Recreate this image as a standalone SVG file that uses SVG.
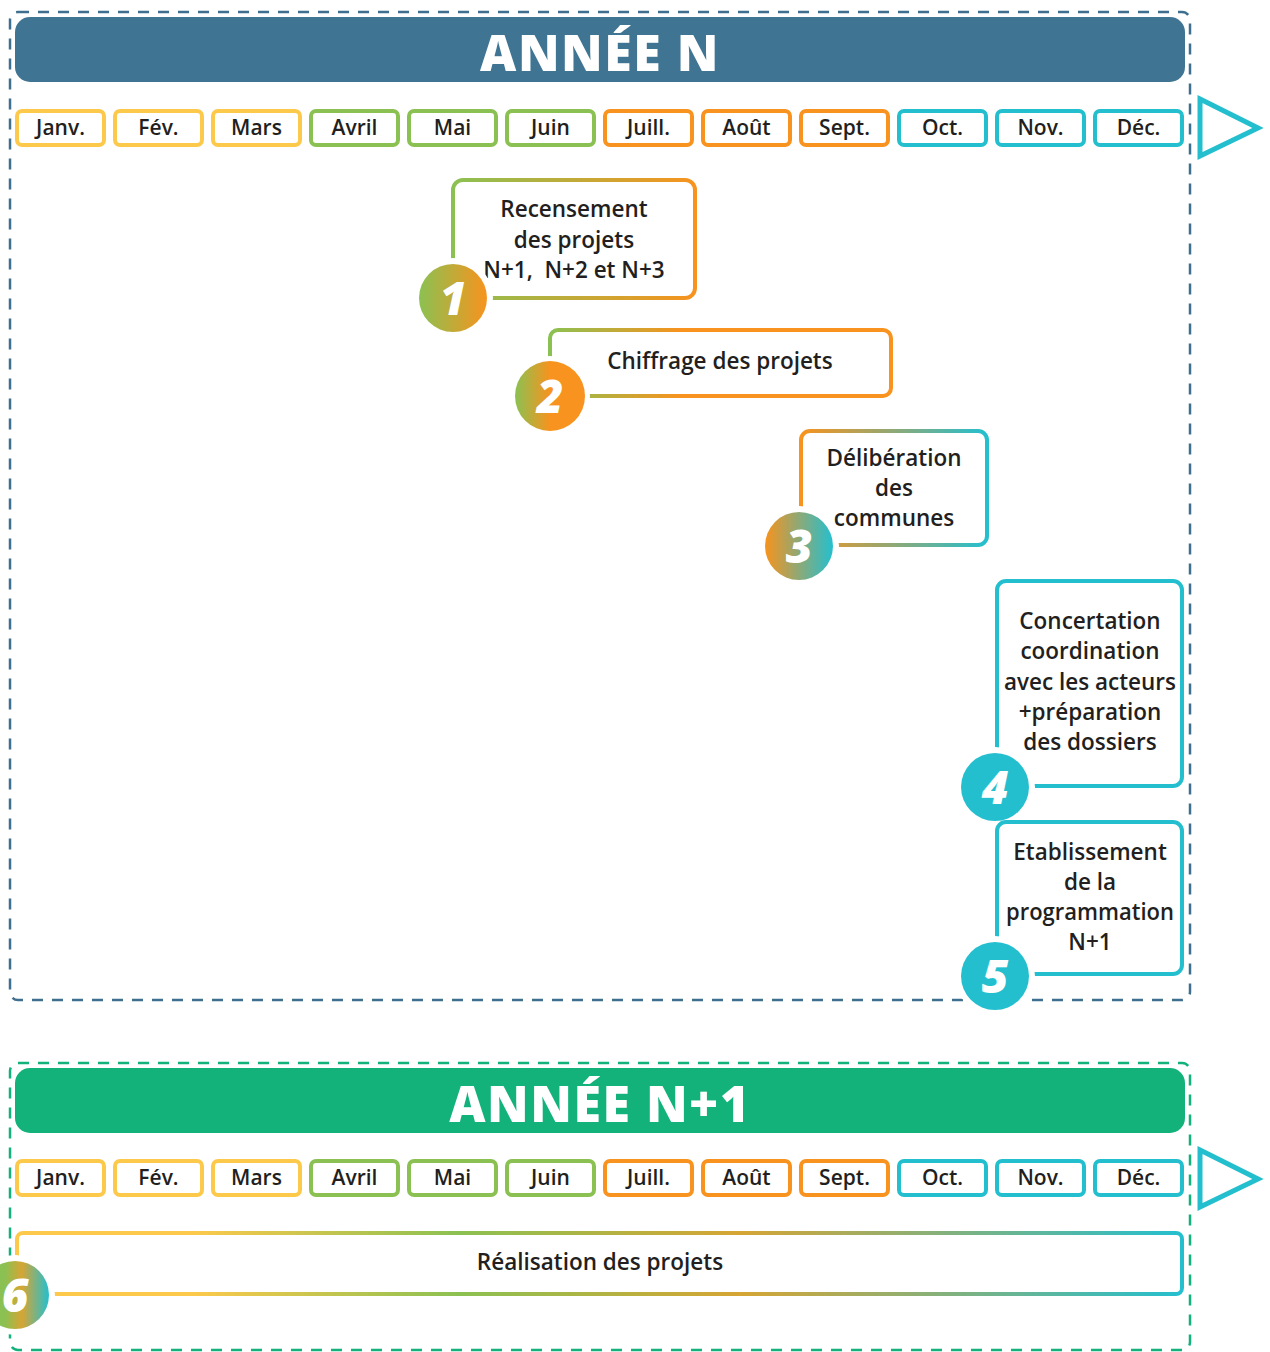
<svg xmlns="http://www.w3.org/2000/svg" width="1270" height="1352" viewBox="0 0 1270 1352">
<style>
.frame{fill:none;stroke-width:2.5;stroke-dasharray:11 9}
.hdr{font-family:"Open Sans","Liberation Sans",sans-serif;font-weight:800;font-size:50px;fill:#fff;text-anchor:middle;letter-spacing:1.5px}
.mb{fill:#fff;stroke-width:4}
.mt{font-family:"Open Sans","Liberation Sans",sans-serif;font-weight:600;font-size:21px;fill:#231f20;text-anchor:middle}
.y{stroke:#fdc94b}.g{stroke:#8bc152}.o{stroke:#f7931e}.c{stroke:#24bfcf}
.box{fill:#fff;stroke-width:4}
.t{font-family:"Open Sans","Liberation Sans",sans-serif;font-weight:600;font-size:22.5px;fill:#231f20;text-anchor:middle}
.num{font-family:"Open Sans","Liberation Sans",sans-serif;font-weight:800;font-style:italic;font-size:46px;fill:#fff;text-anchor:middle}
.ring{fill:#fff}
.arrow{fill:none;stroke:#24bfcf;stroke-width:5}
</style>
<defs>
<linearGradient id="g1" gradientUnits="userSpaceOnUse" x1="453" y1="0" x2="695" y2="0"><stop offset="0" stop-color="#8bc152"/><stop offset="1" stop-color="#f7931e"/></linearGradient>
<linearGradient id="c1" x1="0" y1="0" x2="1" y2="0"><stop offset="0" stop-color="#8bc152"/><stop offset="1" stop-color="#f7931e"/></linearGradient>
<linearGradient id="g2" gradientUnits="userSpaceOnUse" x1="550" y1="0" x2="680" y2="0"><stop offset="0" stop-color="#8bc152"/><stop offset="1" stop-color="#f7931e"/></linearGradient>
<linearGradient id="c2" x1="0" y1="0" x2="1" y2="0"><stop offset="0" stop-color="#8bc152"/><stop offset="0.5" stop-color="#f7931e"/><stop offset="1" stop-color="#f7931e"/></linearGradient>
<linearGradient id="g3" gradientUnits="userSpaceOnUse" x1="801" y1="0" x2="987" y2="0"><stop offset="0" stop-color="#f7931e"/><stop offset="1" stop-color="#24bfcf"/></linearGradient>
<linearGradient id="c3" x1="0" y1="0" x2="1" y2="0"><stop offset="0" stop-color="#f7931e"/><stop offset="1" stop-color="#24bfcf"/></linearGradient>
<linearGradient id="g6" gradientUnits="userSpaceOnUse" x1="17" y1="0" x2="1182" y2="0"><stop offset="0" stop-color="#fdc94b"/><stop offset="0.15" stop-color="#fdc94b"/><stop offset="0.38" stop-color="#8bc152"/><stop offset="0.62" stop-color="#d6a534"/><stop offset="1" stop-color="#24bfcf"/></linearGradient>
<linearGradient id="c6" x1="0" y1="0" x2="1" y2="0"><stop offset="0" stop-color="#8bc152"/><stop offset="0.35" stop-color="#8bc152"/><stop offset="0.6" stop-color="#d6a534"/><stop offset="1" stop-color="#24bfcf"/></linearGradient>
</defs>

<!-- ANNEE N -->
<g id="year-n">
<rect class="frame" x="10" y="12" width="1180" height="988" rx="8" stroke="#3e6f8e"/>
<rect x="15" y="17" width="1170" height="65" rx="15" fill="#3f7593"/>
<text class="hdr" x="600" y="71">ANNÉE N</text>
</g>
<g id="months-n">
<rect class="mb y" x="17" y="111" width="87" height="34" rx="5"/><text class="mt" x="60.5" y="135">Janv.</text>
<rect class="mb y" x="115" y="111" width="87" height="34" rx="5"/><text class="mt" x="158.5" y="135">Fév.</text>
<rect class="mb y" x="213" y="111" width="87" height="34" rx="5"/><text class="mt" x="256.5" y="135">Mars</text>
<rect class="mb g" x="311" y="111" width="87" height="34" rx="5"/><text class="mt" x="354.5" y="135">Avril</text>
<rect class="mb g" x="409" y="111" width="87" height="34" rx="5"/><text class="mt" x="452.5" y="135">Mai</text>
<rect class="mb g" x="507" y="111" width="87" height="34" rx="5"/><text class="mt" x="550.5" y="135">Juin</text>
<rect class="mb o" x="605" y="111" width="87" height="34" rx="5"/><text class="mt" x="648.5" y="135">Juill.</text>
<rect class="mb o" x="703" y="111" width="87" height="34" rx="5"/><text class="mt" x="746.5" y="135">Août</text>
<rect class="mb o" x="801" y="111" width="87" height="34" rx="5"/><text class="mt" x="844.5" y="135">Sept.</text>
<rect class="mb c" x="899" y="111" width="87" height="34" rx="5"/><text class="mt" x="942.5" y="135">Oct.</text>
<rect class="mb c" x="997" y="111" width="87" height="34" rx="5"/><text class="mt" x="1040.5" y="135">Nov.</text>
<rect class="mb c" x="1095" y="111" width="87" height="34" rx="5"/><text class="mt" x="1138.5" y="135">Déc.</text>
<polygon class="arrow" points="1200,99 1258,128 1200,156"/>
</g>

<g id="step1">
<rect class="box" x="453" y="180" width="242" height="118" rx="10" stroke="url(#g1)"/>
<text class="t" x="574" y="217">Recensement</text>
<text class="t" x="574" y="248">des projets</text>
<text class="t" x="574" y="278" xml:space="preserve">N+1,  N+2 et N+3</text>
<circle class="ring" cx="453" cy="298" r="40"/>
<circle cx="453" cy="298" r="34" fill="url(#c1)"/>
<text class="num" x="453" y="315">1</text>
</g>

<g id="step2">
<rect class="box" x="550" y="330" width="341" height="66" rx="8" stroke="url(#g2)"/>
<text class="t" x="720" y="369">Chiffrage des projets</text>
<circle class="ring" cx="550" cy="396" r="40"/>
<circle cx="550" cy="396" r="35" fill="url(#c2)"/>
<text class="num" x="550" y="413">2</text>
</g>

<g id="step3">
<rect class="box" x="801" y="431" width="186" height="114" rx="9" stroke="url(#g3)"/>
<text class="t" x="894" y="466">Délibération</text>
<text class="t" x="894" y="496">des</text>
<text class="t" x="894" y="526">communes</text>
<circle class="ring" cx="799" cy="546" r="40"/>
<circle cx="799" cy="546" r="34" fill="url(#c3)"/>
<text class="num" x="799" y="563">3</text>
</g>

<g id="step4">
<rect class="box c" x="997" y="581" width="185" height="205" rx="9"/>
<text class="t" x="1090" y="629">Concertation</text>
<text class="t" x="1090" y="659">coordination</text>
<text class="t" x="1090" y="690" textLength="172" lengthAdjust="spacingAndGlyphs">avec les acteurs</text>
<text class="t" x="1090" y="720">+préparation</text>
<text class="t" x="1090" y="750">des dossiers</text>
<circle class="ring" cx="995" cy="787" r="40"/>
<circle cx="995" cy="787" r="34" fill="#24bfcf"/>
<text class="num" x="995" y="804">4</text>
</g>

<g id="step5">
<rect class="box c" x="997" y="822" width="185" height="152" rx="9"/>
<text class="t" x="1090" y="860">Etablissement</text>
<text class="t" x="1090" y="890">de la</text>
<text class="t" x="1090" y="920" textLength="168" lengthAdjust="spacingAndGlyphs">programmation</text>
<text class="t" x="1090" y="950">N+1</text>
<circle class="ring" cx="995" cy="976" r="40"/>
<circle cx="995" cy="976" r="34" fill="#24bfcf"/>
<text class="num" x="995" y="993">5</text>
</g>

<!-- ANNEE N+1 -->
<g id="year-n1">
<rect class="frame" x="10" y="1063" width="1180" height="287" rx="8" stroke="#13b27b"/>
<rect x="15" y="1068" width="1170" height="65" rx="15" fill="#13b27b"/>
<text class="hdr" x="600" y="1122">ANNÉE N+1</text>
</g>
<g id="months-n1">
<rect class="mb y" x="17" y="1161" width="87" height="34" rx="5"/><text class="mt" x="60.5" y="1185">Janv.</text>
<rect class="mb y" x="115" y="1161" width="87" height="34" rx="5"/><text class="mt" x="158.5" y="1185">Fév.</text>
<rect class="mb y" x="213" y="1161" width="87" height="34" rx="5"/><text class="mt" x="256.5" y="1185">Mars</text>
<rect class="mb g" x="311" y="1161" width="87" height="34" rx="5"/><text class="mt" x="354.5" y="1185">Avril</text>
<rect class="mb g" x="409" y="1161" width="87" height="34" rx="5"/><text class="mt" x="452.5" y="1185">Mai</text>
<rect class="mb g" x="507" y="1161" width="87" height="34" rx="5"/><text class="mt" x="550.5" y="1185">Juin</text>
<rect class="mb o" x="605" y="1161" width="87" height="34" rx="5"/><text class="mt" x="648.5" y="1185">Juill.</text>
<rect class="mb o" x="703" y="1161" width="87" height="34" rx="5"/><text class="mt" x="746.5" y="1185">Août</text>
<rect class="mb o" x="801" y="1161" width="87" height="34" rx="5"/><text class="mt" x="844.5" y="1185">Sept.</text>
<rect class="mb c" x="899" y="1161" width="87" height="34" rx="5"/><text class="mt" x="942.5" y="1185">Oct.</text>
<rect class="mb c" x="997" y="1161" width="87" height="34" rx="5"/><text class="mt" x="1040.5" y="1185">Nov.</text>
<rect class="mb c" x="1095" y="1161" width="87" height="34" rx="5"/><text class="mt" x="1138.5" y="1185">Déc.</text>
<polygon class="arrow" points="1200,1150 1258,1179 1200,1207"/>
</g>

<g id="step6">
<rect class="box" x="17" y="1233" width="1165" height="61" rx="6" stroke="url(#g6)"/>
<text class="t" x="600" y="1270">Réalisation des projets</text>
<circle class="ring" cx="15" cy="1295" r="40"/>
<circle cx="15" cy="1295" r="34" fill="url(#c6)"/>
<text class="num" x="15" y="1312">6</text>
</g>
<g id="connectors"/>
</svg>
